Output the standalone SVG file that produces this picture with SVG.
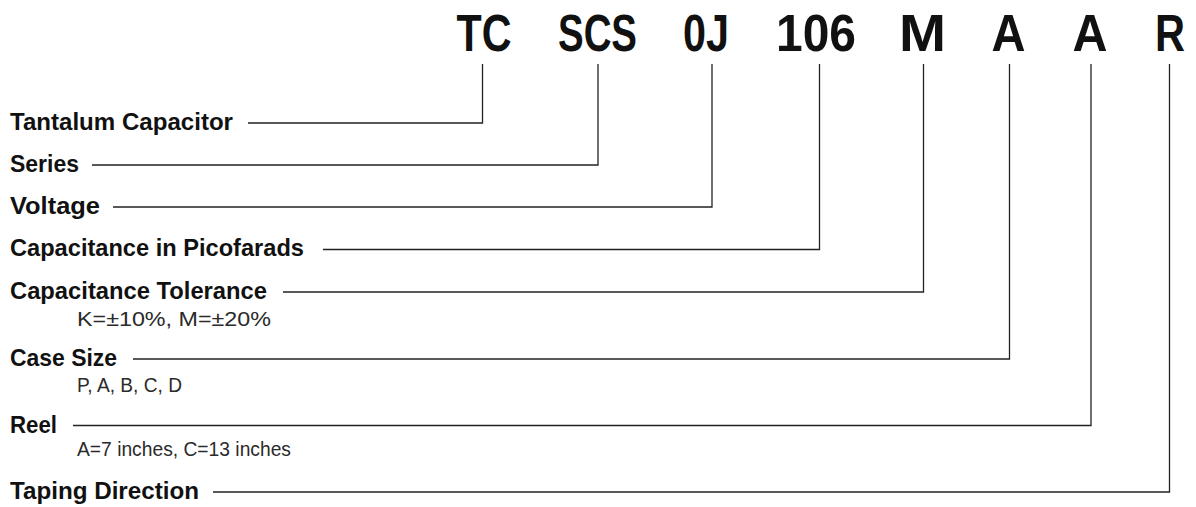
<svg xmlns="http://www.w3.org/2000/svg" width="1196" height="507" viewBox="0 0 1196 507">
<style>
.code{font-family:"Liberation Sans",Arial,sans-serif;font-weight:bold;font-size:52px;fill:#111;text-anchor:middle}
.lbl{font-family:"Liberation Sans",Arial,sans-serif;font-weight:bold;font-size:24px;fill:#111}
.sub{font-family:"Liberation Sans",Arial,sans-serif;font-weight:normal;font-size:20.5px;fill:#2a2a2a}
.conn{fill:none;stroke:#222;stroke-width:1.3}
</style>
<rect width="1196" height="507" fill="#fff"/>
<g id="codes">
<text class="code" x="484" y="51" textLength="55" lengthAdjust="spacingAndGlyphs">TC</text>
<text class="code" x="597.5" y="51" textLength="79" lengthAdjust="spacingAndGlyphs">SCS</text>
<text class="code" x="706" y="51" textLength="46" lengthAdjust="spacingAndGlyphs">0J</text>
<text class="code" x="816" y="51" textLength="80" lengthAdjust="spacingAndGlyphs">106</text>
<text class="code" x="922.5" y="51" textLength="47" lengthAdjust="spacingAndGlyphs">M</text>
<text class="code" x="1008.5" y="51" textLength="34" lengthAdjust="spacingAndGlyphs">A</text>
<text class="code" x="1090" y="51" textLength="35" lengthAdjust="spacingAndGlyphs">A</text>
<text class="code" x="1170" y="51" textLength="30" lengthAdjust="spacingAndGlyphs">R</text>
</g>
<g id="node-tantalum"><text class="lbl" x="10" y="129.5" textLength="223" lengthAdjust="spacingAndGlyphs">Tantalum Capacitor</text></g>
<g id="node-series"><text class="lbl" x="10" y="171.5" textLength="69" lengthAdjust="spacingAndGlyphs">Series</text></g>
<g id="node-voltage"><text class="lbl" x="10" y="213.5" textLength="90" lengthAdjust="spacingAndGlyphs">Voltage</text></g>
<g id="node-capacitance"><text class="lbl" x="10" y="256" textLength="294" lengthAdjust="spacingAndGlyphs">Capacitance in Picofarads</text></g>
<g id="node-tolerance">
<text class="lbl" x="10" y="298.5" textLength="257" lengthAdjust="spacingAndGlyphs">Capacitance Tolerance</text>
<text class="sub" x="77" y="326" textLength="194" lengthAdjust="spacingAndGlyphs">K=±10%, M=±20%</text>
</g>
<g id="node-case">
<text class="lbl" x="10" y="365.5" textLength="107" lengthAdjust="spacingAndGlyphs">Case Size</text>
<text class="sub" x="77" y="391.5" textLength="105" lengthAdjust="spacingAndGlyphs">P, A, B, C, D</text>
</g>
<g id="node-reel">
<text class="lbl" x="10" y="432.5" textLength="47" lengthAdjust="spacingAndGlyphs">Reel</text>
<text class="sub" x="77" y="456" textLength="214" lengthAdjust="spacingAndGlyphs">A=7 inches, C=13 inches</text>
</g>
<g id="node-taping"><text class="lbl" x="10" y="498.5" textLength="189" lengthAdjust="spacingAndGlyphs">Taping Direction</text></g>
<g id="connectors">
<path class="conn" d="M482.5 64V123H248"/>
<path class="conn" d="M598 64V165H92"/>
<path class="conn" d="M712 64V207H113"/>
<path class="conn" d="M819.5 64V249.5H323"/>
<path class="conn" d="M923.5 64V292H283"/>
<path class="conn" d="M1009.5 64V359H133"/>
<path class="conn" d="M1091 64V425.5H73"/>
<path class="conn" d="M1169.5 64V492H213"/>
</g>
</svg>
